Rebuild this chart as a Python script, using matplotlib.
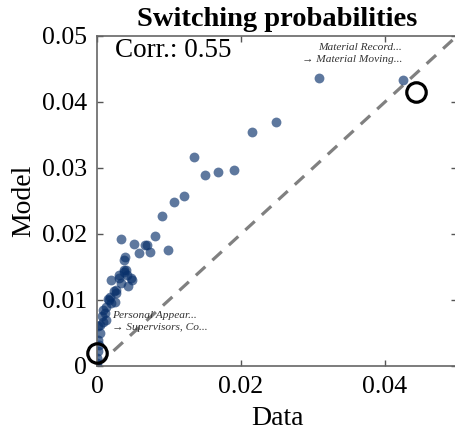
import matplotlib
matplotlib.use("Agg")
import matplotlib.pyplot as plt

plt.rcParams['font.family'] = ['Liberation Serif', 'DejaVu Serif']

# switching probabilities: observed (data) vs predicted (model)
data_x = [0.01074, 0.01213, 0.01347, 0.01495, 0.0168, 0.01903, 0.02157, 0.02486,
          0.03088, 0.0425, 0.00903, 0.0081, 0.00982, 0.0033, 0.0052, 0.0066,
          0.0070, 0.0058, 0.0074, 0.0039, 0.00375, 0.0040, 0.0030, 0.0048,
          0.0020, 0.0034, 0.0043, 0.0027, 0.0038, 0.0030, 0.0038, 0.0047,
          0.0042, 0.0023, 0.0027, 0.0018, 0.0016, 0.0020, 0.0013, 0.0025,
          0.0011, 0.00065, 0.0009, 0.0013, 0.0004, 0.0002, 0.0004, 0.0002,
          0.0003, 0.0001, 0.0, 0.0, 0.0, 0.0008, 0.0015]
model_y = [0.0248, 0.0258, 0.03167, 0.02894, 0.02934, 0.02975, 0.0354, 0.03692,
           0.0436, 0.04338, 0.02273, 0.0197, 0.01758, 0.0192, 0.0185, 0.0184,
           0.0184, 0.0171, 0.0173, 0.0165, 0.0145, 0.0145, 0.0138, 0.0131,
           0.0130, 0.0125, 0.0121, 0.0115, 0.0161, 0.0134, 0.0143, 0.0133,
           0.0138, 0.0113, 0.0110, 0.0105, 0.0100, 0.0095, 0.0090, 0.0097,
           0.0080, 0.0075, 0.0067, 0.0070, 0.0062, 0.0060, 0.0050, 0.0039,
           0.0032, 0.0022, 0.0012, 0.0004, 0.0, 0.0085, 0.0102]

# highlighted transitions (open circles)
hl_x = [0.0443, 0.0]
hl_y = [0.0415, 0.0019]
hl_labels = ["Material Record...\n\u2192 Material Moving...",
             "Personal Appear...\n\u2192 Supervisors, Co..."]
corr = 0.55

fig = plt.figure(figsize=(4.55, 4.34), dpi=100)
ax = fig.add_axes([0.2132, 0.1567, 0.791, 0.7604])

ax.plot([0, 0.05], [0, 0.05], ls=(0, (4, 3)), color='#808080', lw=2.3, zorder=1)
ax.scatter(data_x, model_y, s=50, color='#08306b', alpha=0.65, lw=0, zorder=2)
ax.plot(hl_x, hl_y, 'o', ms=14, mfc='none', mec='black', mew=2.3, zorder=3,
        clip_on=False)

ax.text(0.0424, 0.0458, hl_labels[0], ha='right', va='bottom', fontsize=8.2,
        style='italic', color='#333333', multialignment='right', linespacing=1.45)
ax.text(0.0021, 0.0052, hl_labels[1], ha='left', va='bottom', fontsize=8.2,
        style='italic', color='#333333', linespacing=1.45)

ax.text(0.05, 0.995, "Corr.: %.2f" % corr, transform=ax.transAxes, ha='left',
        va='top', fontsize=19.5)

ax.set_xlim(0, 0.05)
ax.set_ylim(0, 0.05)
ax.set_xticks([0, 0.02, 0.04])
ax.set_xticklabels(["0", "0.02", "0.04"])
ax.set_yticks([0, 0.01, 0.02, 0.03, 0.04, 0.05])
ax.set_yticklabels(["0", "0.01", "0.02", "0.03", "0.04", "0.05"])
ax.tick_params(direction='in', top=True, right=True, length=4, width=1,
               color='#555555', labelsize=18.5, pad=7)
for sp in ax.spines.values():
    sp.set_color('#666666')
    sp.set_linewidth(1.2)

ax.set_xlabel("Data", fontsize=20, labelpad=6)
ax.set_ylabel("Model", fontsize=20, labelpad=4)
ax.set_title("Switching probabilities", fontsize=20.5, fontweight='bold', pad=7)

fig.savefig("out.png", dpi=100)
